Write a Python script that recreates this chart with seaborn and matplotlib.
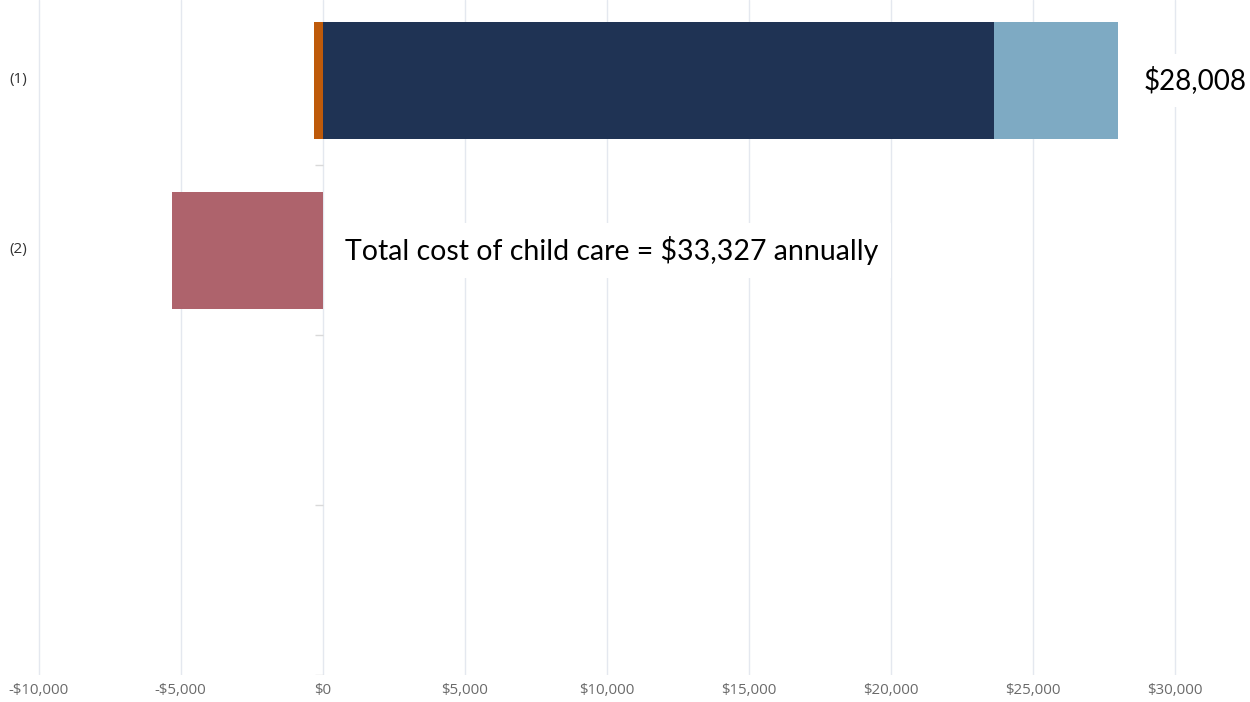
import numpy as np
import pandas as pd
import matplotlib
matplotlib.use("Agg")
import matplotlib.pyplot as plt
from matplotlib.ticker import FuncFormatter
import matplotlib.transforms as mtransforms
import seaborn as sns

# Row slots on the y axis (only the first two carry data)
slots = ["(1)", "(2)", "(3)", "(4)"]
slot_labels = ["(1)", "(2)", "", ""]
rows = ["(1)", "(2)"]

# Annual amounts per row, in dollars
base_amount = [23650, 0]        # dark navy segment
top_amount = [4358, 0]          # light blue segment stacked after navy
small_negative = [-300, 0]      # orange sliver left of zero
gap_negative = [0, -5319]       # rose bar on the second row

x_ticks = [-10000, -5000, 0, 5000, 10000, 15000, 20000, 25000, 30000]

NAVY = "#1F3354"
LIGHT = "#7EAAC3"
ORANGE = "#BE5A0A"
ROSE = "#AE636C"

sns.set_style("white")
plt.rcParams["font.family"] = ["Open Sans", "DejaVu Sans"]

fig = plt.figure(figsize=(12.5, 7.02), dpi=100)
ax = fig.add_axes([35 / 1250, 27 / 702, 1215 / 1250, 675 / 702])

pos_total = [b + t for b, t in zip(base_amount, top_amount)]

layers = [
    (pos_total, LIGHT),
    (base_amount, NAVY),
    (small_negative, ORANGE),
    (gap_negative, ROSE),
]
for values, col in layers:
    df = pd.DataFrame({"row": rows, "value": values})
    sns.barplot(data=df, x="value", y="row", order=slots, orient="h",
                color=col, saturation=1, width=0.69, errorbar=None,
                linewidth=0, ax=ax)

ax.set_xlim(-10130, 32651)
ax.set_ylim(len(slots) - 0.5, -0.474)

ax.set_xticks(x_ticks)
ax.xaxis.set_major_formatter(FuncFormatter(
    lambda v, p: ("-$" if v < 0 else "$") + f"{abs(int(v)):,}"))
ax.tick_params(axis="x", length=0, pad=6, labelsize=10.8, labelcolor="#6A6A6A")
ax.set_yticks(range(len(slots)))
ax.set_yticklabels(slot_labels, fontsize=11, color="#333333")
ax.tick_params(axis="y", length=0, pad=5)
shift_up = mtransforms.ScaledTranslation(0, 3 / 100, fig.dpi_scale_trans)
for lab in ax.get_yticklabels():
    lab.set_horizontalalignment("left")
    lab.set_x(-19 / 1215)
    lab.set_transform(lab.get_transform() + shift_up)

ax.grid(axis="x", color="#E4E8EF", linewidth=1)
ax.grid(axis="y", visible=False)
ax.set_axisbelow(True)
for sp in ax.spines.values():
    sp.set_visible(False)
ax.set_xlabel("")
ax.set_ylabel("")

# small separators between row slots at the zero line
ax.hlines(np.arange(len(slots)) + 0.5, -280, 0, color="#D9D9D9", linewidth=1, zorder=1)

# value labels
total_positive = pos_total[0]
total_cost = total_positive + abs(gap_negative[1])
box = dict(boxstyle="square,pad=0.45", facecolor="white", edgecolor="none")
ax.annotate(f"${total_positive:,}", xy=(total_positive, 0), xytext=(18.5, 0),
            textcoords="offset points", ha="left", va="center",
            fontsize=20, family=["Lato", "DejaVu Sans"], color="black",
            bbox=box, annotation_clip=False)
ax.annotate(f"Total cost of child care = ${total_cost:,} annually",
            xy=(0, 1), xytext=(16, 0), textcoords="offset points",
            ha="left", va="center", fontsize=20.5, family=["Lato", "DejaVu Sans"],
            color="black", bbox=box)

fig.savefig("out.png", dpi=100)
